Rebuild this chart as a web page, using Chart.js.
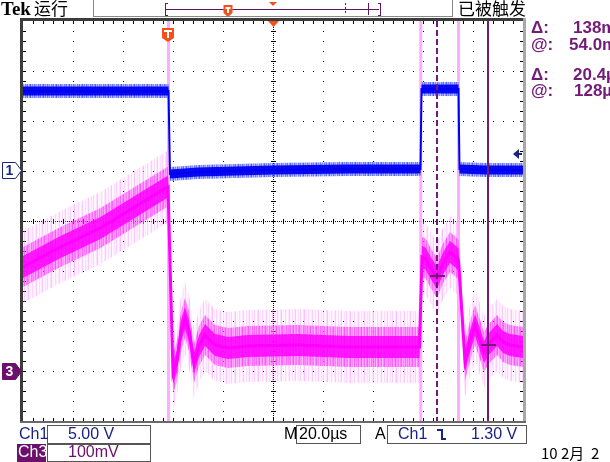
<!DOCTYPE html>
<html>
<head>
<meta charset="utf-8">
<script src="https://cdn.jsdelivr.net/npm/chart.js@4.4.1/dist/chart.umd.min.js"></script>
<style>
  html, body { margin: 0; padding: 0; background: #fff; overflow: hidden; }
  canvas { display: block; }
</style>
</head>
<body>
<canvas id="scope" width="610" height="462"></canvas>
<script>
// ——— Data (time in µs, 0 = screen centre, 20 µs/div) ———
var ch1Time  = [-100, -41.8, -41.2, -30, 0, 30, 59.0, 59.4, 74.2, 74.6, 85, 100];
var ch1Volts = [8.0, 8.0, -0.3, -0.1, 0.1, 0.2, 0.2, 8.2, 8.2, 0.2, 0.1, 0.1];

var ch3Time = [-100, -85, -69, -56, -43, -42, -40, -38.4, -36.8, -35.2, -33.6, -31.6, -29.6, -27.2,
               -25.2, -23.2, -18, -10, 10, 30, 50, 58.6, 59.6, 61, 63.2, 65.6, 68, 70.8, 73.6, 74.2,
               76.8, 78.8, 80.8, 82.6, 84.4, 86, 89.6, 92, 94.8, 100];
var ch3MilliVolts = [208, 248, 286, 326, 366, 368, -4, 20, 80, 106, 80, 16, 50, 72,
                     62, 52, 46, 50, 52, 48, 48, 48, 228, 225, 205, 186, 215, 238, 226, 222,
                     20, 60, 92, 66, 38, 52, 72, 58, 52, 48];

var glitchTimes = [-41.8, 59.1, 74.2];     // full-height ch3 transients
var triggerTime = -41.6;
var cursorTimes = [65.6, 86.0];
var cursorLevels = [192, 54];             // mV on ch3

var ch1VoltsPerDiv = 5, ch1Position = 1;  // ground 1 div above centre
var ch3MvPerDiv = 100, ch3Position = -3;  // ground 3 div below centre

var readoutLabels = ["\u0394:", "@:", "\u0394:", "@:"];
var readoutValues = ["138mV", "54.0mV", "20.4\u00b5s", "128\u00b5s"];

// ——— Build datasets ———
var ch1Points = ch1Time.map(function (t, i) { return { x: t, y: ch1Volts[i] / ch1VoltsPerDiv + ch1Position }; });
var ch3Points = ch3Time.map(function (t, i) { return { x: t, y: ch3MilliVolts[i] / ch3MvPerDiv + ch3Position }; });
var glitchPoints = [];
glitchTimes.forEach(function (t) {
  glitchPoints.push({ x: t, y: 4 }, { x: t, y: -4 }, { x: t, y: null });
});

var PURPLE = "#741a78";
var NAVY = "#1a2384";
var ORANGE = "#f2511b";

// striped fill so the persistence band looks grainy (a style, fixed pattern)
function stripes(rgb, alphas) {
  var c = document.createElement("canvas");
  c.width = alphas.length; c.height = 1;
  var g = c.getContext("2d");
  alphas.forEach(function (a, i) {
    g.fillStyle = "rgba(" + rgb + "," + a + ")";
    g.fillRect(i, 0, 1, 1);
  });
  return g.createPattern(c, "repeat");
}
var pinkOuter = stripes("255,150,255", [0.15, 0.45, 0.1, 0.05, 0.3, 0.6, 0.1, 0.2, 0.05, 0.4, 0.15, 0.05, 0.25, 0.5, 0.1, 0.05, 0.35, 0.1, 0.2, 0.55, 0.05, 0.15, 0.3]);
var pinkMid = stripes("255,70,255", [0.5, 0.8, 0.35, 0.6, 0.9, 0.4, 0.55, 0.75, 0.3, 0.65, 0.85, 0.45, 0.6, 0.35, 0.8, 0.5, 0.7]);
var blueOuter = stripes("60,80,255", [0.5, 0.8, 0.3, 0.6, 0.9, 0.4, 0.7, 0.35, 0.8, 0.5, 0.6, 0.3, 0.75]);

function bandPath(ctx, pts, half) {
  ctx.beginPath();
  pts.forEach(function (p, i) { if (i === 0) ctx.moveTo(p.x, p.y - half); else ctx.lineTo(p.x, p.y - half); });
  for (var i = pts.length - 1; i >= 0; i--) ctx.lineTo(pts[i].x, pts[i].y + half);
  ctx.closePath();
}

// trace glow: the noisy band round each trace
var traceBands = {
  id: "traceBands",
  beforeDatasetDraw: function (chart, args) {
    var ds = chart.data.datasets[args.index];
    if (!ds.bands) return;
    var a = chart.chartArea, ctx = chart.ctx;
    var pts = args.meta.data.map(function (p) { return { x: p.x, y: p.y }; });
    ctx.save();
    ctx.beginPath();
    ctx.rect(a.left, a.top, a.right - a.left, a.bottom - a.top);
    ctx.clip();
    ds.bands.forEach(function (b) {
      bandPath(ctx, pts, b[0]);
      ctx.fillStyle = b[1];
      ctx.fill();
    });
    ctx.restore();
  }
};

function tMarker(ctx, cx, top, w, h) {
  ctx.fillStyle = ORANGE;
  ctx.fillRect(cx - w / 2, top, w, h - 4);
  ctx.beginPath();
  ctx.moveTo(cx - w / 2, top + h - 4);
  ctx.lineTo(cx + w / 2, top + h - 4);
  ctx.lineTo(cx, top + h);
  ctx.closePath();
  ctx.fill();
  ctx.fillStyle = "#fff";
  ctx.fillRect(cx - w / 2 + 2, top + 2, w - 4, 2);
  ctx.fillRect(cx - 1, top + 2, 2, h - 6);
}

function chanMarker(ctx, top, fill, stroke, txtColor, label) {
  ctx.beginPath();
  ctx.moveTo(2.5, top + 0.5);
  ctx.lineTo(15.5, top + 0.5);
  ctx.lineTo(21.5, top + 8.5);
  ctx.lineTo(15.5, top + 16.5);
  ctx.lineTo(2.5, top + 16.5);
  ctx.closePath();
  ctx.fillStyle = fill;
  ctx.fill();
  ctx.strokeStyle = stroke;
  ctx.lineWidth = 1;
  ctx.stroke();
  ctx.fillStyle = txtColor;
  ctx.font = "bold 14px 'Liberation Sans'";
  ctx.textAlign = "center";
  ctx.textBaseline = "middle";
  ctx.fillText(label, 9.5, top + 9);
}

var scopeFrame = {
  id: "scopeFrame",
  beforeDraw: function (chart) {
    var ctx = chart.ctx, a = chart.chartArea;
    var L = a.left, T = a.top, R = a.right, B = a.bottom;
    var cx = Math.round((L + R) / 2), cy = Math.round((T + B) / 2);
    ctx.save();
    ctx.fillStyle = "#fff";
    ctx.fillRect(0, 0, chart.width, chart.height);
    ctx.fillStyle = "#000";
    var x, y, i;
    for (i = 1; i < 10; i++) { x = L + i * 50; for (y = T + 10; y < B; y += 10) ctx.fillRect(x, y, 1, 1); }
    for (i = 1; i < 8; i++) { y = T + i * 50; for (x = L + 10; x < R; x += 10) ctx.fillRect(x, y, 1, 1); }
    for (y = T; y < B; y += 2) ctx.fillRect(cx, y, 1, 1);
    for (x = L; x < R; x += 2) ctx.fillRect(x, cy, 1, 1);
    for (y = T + 10; y < B; y += 10) ctx.fillRect(cx - 2, y, 5, 1);
    for (x = L + 10; x < R; x += 10) ctx.fillRect(x, cy - 2, 1, 5);
    for (x = L + 10; x < R; x += 10) { ctx.fillRect(x, T, 1, 3); ctx.fillRect(x, B - 3, 1, 3); }
    for (y = T + 10; y < B; y += 10) { ctx.fillRect(L, y, 3, 1); ctx.fillRect(R - 3, y, 3, 1); }
    ctx.restore();
  },
  afterDraw: function (chart) {
    var ctx = chart.ctx, a = chart.chartArea;
    var L = a.left, T = a.top, R = a.right, B = a.bottom;
    var xs = chart.scales.x, ys = chart.scales.y;
    ctx.save();

    // cursors
    var c0 = Math.round(xs.getPixelForValue(cursorTimes[0]));
    var c1 = Math.round(xs.getPixelForValue(cursorTimes[1]));
    ctx.fillStyle = PURPLE;
    for (var y = T; y < B; y += 9) ctx.fillRect(c0 - 1, y, 2, Math.min(6, B - y));
    ctx.fillRect(c1 - 1, T, 2, B - T);
    var h0 = Math.round(ys.getPixelForValue(cursorLevels[0] / ch3MvPerDiv + ch3Position));
    var h1 = Math.round(ys.getPixelForValue(cursorLevels[1] / ch3MvPerDiv + ch3Position));
    ctx.fillRect(c0 - 7, h0, 15, 2);
    ctx.fillRect(c1 - 7, h1, 15, 2);

    // frame
    ctx.fillStyle = "#3c3c3c";
    ctx.fillRect(L - 3, T - 3, R - L + 3, 3);
    ctx.fillRect(L - 3, T - 3, 3, B - T + 5);
    ctx.fillStyle = "#a8a8a8";
    ctx.fillRect(R, T - 3, 3, B - T + 5);
    ctx.fillStyle = "#6a6a6a";
    ctx.fillRect(L - 3, B, R - L + 6, 2);

    // header
    ctx.fillStyle = "#888";
    ctx.fillRect(93, 0, 1, 17);
    ctx.fillRect(452, 0, 1, 17);
    ctx.fillRect(93, 16, 359, 1);
    ctx.fillStyle = "#000";
    ctx.textBaseline = "alphabetic";
    ctx.textAlign = "left";
    ctx.font = "bold 19px 'Liberation Serif'";
    ctx.fillText("Tek", 1, 15);
    ctx.font = "17px 'Noto Sans CJK SC'";
    ctx.fillText("\u8fd0\u884c", 34, 15);
    ctx.fillText("\u5df2\u88ab\u89e6\u53d1", 458, 15);

    // record view bar
    ctx.fillStyle = "#5b1a5e";
    ctx.fillRect(166, 9, 213, 1);
    ctx.fillRect(165, 3, 1, 13);
    ctx.fillRect(165, 3, 3, 1);
    ctx.fillRect(165, 15, 3, 1);
    ctx.fillRect(380, 3, 1, 13);
    ctx.fillRect(378, 3, 3, 1);
    ctx.fillRect(378, 15, 3, 1);
    ctx.fillRect(368, 3, 1, 12);
    for (var yy = 3; yy < 15; yy += 4) ctx.fillRect(345, yy, 1, 2);
    tMarker(ctx, 228, 5, 9, 12);
    ctx.fillStyle = ORANGE;
    ctx.beginPath(); ctx.moveTo(269, 2); ctx.lineTo(277, 2); ctx.lineTo(273, 6); ctx.closePath(); ctx.fill();

    // trigger markers in plot
    var tx = Math.round(xs.getPixelForValue(triggerTime));
    tMarker(ctx, tx - 1, 28, 12, 14);
    ctx.fillStyle = ORANGE;
    var mid = Math.round((L + R) / 2);
    ctx.beginPath(); ctx.moveTo(mid - 5, T); ctx.lineTo(mid + 6, T); ctx.lineTo(mid + 0.5, T + 6); ctx.closePath(); ctx.fill();

    // trigger level arrow
    ctx.fillStyle = NAVY;
    ctx.beginPath(); ctx.moveTo(513, 154); ctx.lineTo(519, 149); ctx.lineTo(519, 159); ctx.closePath(); ctx.fill();
    ctx.fillRect(518, 153, 4, 2);

    // channel ground markers
    var g1 = Math.round(ys.getPixelForValue(ch1Position));
    var g3 = Math.round(ys.getPixelForValue(ch3Position));
    chanMarker(ctx, g1 - 9, "#fff", NAVY, NAVY, "1");
    chanMarker(ctx, g3 - 8, "#6d0f6d", "#6d0f6d", "#fff", "3");

    // cursor readouts
    ctx.fillStyle = PURPLE;
    ctx.font = "bold 17px 'Liberation Sans'";
    ctx.textAlign = "left";
    ctx.textBaseline = "middle";
    var rows = [28, 45, 75, 91];
    var valX = [573, 569, 573, 574];
    rows.forEach(function (ry, i) {
      ctx.fillText(readoutLabels[i], 531, ry);
      ctx.fillText(readoutValues[i], valX[i], ry);
    });

    // bottom status line
    ctx.strokeStyle = "#555";
    ctx.lineWidth = 1;
    ctx.strokeRect(47.5, 425.5, 103, 18);
    ctx.strokeRect(47.5, 444.5, 103, 17);
    ctx.strokeRect(296.5, 425.5, 64, 18);
    ctx.strokeRect(387.5, 425.5, 139, 18);
    ctx.fillStyle = "#6d0f6d";
    ctx.fillRect(17, 444, 29, 18);

    ctx.font = "16px 'Liberation Sans'";
    ctx.textBaseline = "middle";
    ctx.fillStyle = NAVY;
    ctx.fillText("Ch1", 19, 435);
    ctx.fillText("5.00 V", 68, 435);
    ctx.fillStyle = "#fff";
    ctx.fillText("Ch3", 18, 453);
    ctx.fillStyle = "#6d0f6d";
    ctx.fillText("100mV", 68, 453);
    ctx.fillStyle = "#000";
    ctx.fillText("M", 284, 435);
    ctx.fillText("20.0\u00b5s", 299, 435);
    ctx.fillText("A", 375, 435);
    ctx.fillStyle = NAVY;
    ctx.fillText("Ch1", 398, 435);
    ctx.fillText("1.30 V", 471, 435);
    ctx.fillRect(437, 429, 6, 2);
    ctx.fillRect(441, 429, 2, 11);
    ctx.fillRect(441, 438, 5, 2);
    ctx.fillStyle = "#000";
    ctx.font = "15px 'Noto Sans CJK SC'";
    ctx.fillText("10 2\u6708  2", 541, 453);
    ctx.restore();
  }
};

new Chart(document.getElementById("scope"), {
  type: "line",
  data: {
    datasets: [
      {
        label: "Ch1",
        data: ch1Points,
        borderColor: "#0000f0",
        borderWidth: 2,
        pointRadius: 0,
        tension: 0,
        order: 1,
        bands: [[7, blueOuter], [4.5, "rgba(0, 0, 240, 0.95)"]]
      },
      {
        label: "Ch3",
        data: ch3Points,
        borderColor: "#ff00ff",
        borderWidth: 3,
        pointRadius: 0,
        tension: 0,
        order: 2,
        bands: [[36, pinkOuter], [20, pinkMid], [11, "rgba(255, 0, 255, 0.85)"]]
      },
      {
        label: "Ch3 transient",
        data: glitchPoints,
        borderColor: "rgba(255, 160, 255, 0.85)",
        borderWidth: 3,
        pointRadius: 0,
        spanGaps: false,
        order: 3
      }
    ]
  },
  options: {
    responsive: false,
    animation: false,
    devicePixelRatio: 1,
    layout: { padding: { left: 23, top: 21, right: 87, bottom: 41 } },
    scales: {
      x: { type: "linear", min: -100, max: 100, display: false },
      y: { type: "linear", min: -4, max: 4, display: false }
    },
    plugins: { legend: { display: false }, tooltip: { enabled: false } }
  },
  plugins: [traceBands, scopeFrame]
});
</script>
</body>
</html>
